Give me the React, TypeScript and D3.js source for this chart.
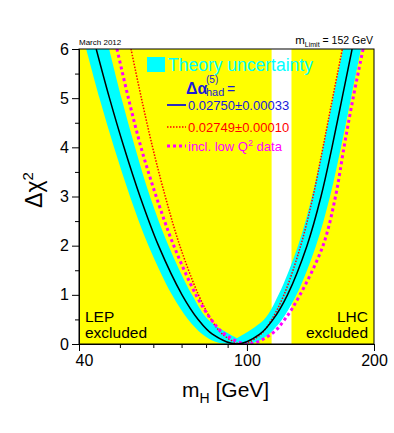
import { useEffect, useRef } from "react";
import * as d3 from "d3";

// axis ticks
const yMajorTicks = [0, 1, 2, 3, 4, 5, 6];
const yMinorTicks = [0.5, 1.5, 2.5, 3.5, 4.5, 5.5];
const xMajorTicks = [40, 100, 200];
const xMinorTicks = [50, 60, 70, 80, 90];

// excluded regions (GeV)
const lepLimit = 114.4;
const lhcLimit = 127.5;

// curves as [mH (GeV), delta chi2]
const centralCurve = [
  [43.94, 6], [47.24, 5], [51.13, 4], [55.8, 3], [61.72, 2], [70.17, 1], [76.61, 0.5],
  [82.82, 0.2], [94.72, 0], [107.26, 0.2], [115.34, 0.5], [124.76, 1], [138.77, 2],
  [149.78, 3], [159.04, 4], [168.05, 5], [177.48, 6],
];
const smallErrCurve = [
  [53.12, 6], [56.22, 5], [59.77, 4], [64.05, 3], [69.33, 2], [76.77, 1], [82.28, 0.5],
  [87.51, 0.2], [97.33, 0], [107.85, 0.2], [114.46, 0.5], [122.4, 1], [134.08, 2],
  [143.39, 3], [151.42, 4], [159.56, 5], [168.33, 6],
];
const lowQ2Curve = [
  [49.21, 6], [52.37, 5], [56.1, 4], [60.95, 3], [67.09, 2], [75.73, 1], [82.28, 0.5],
  [88.57, 0.2], [100.57, 0], [114.21, 0.2], [122.93, 0.5], [133.57, 1], [151.42, 2],
  [162.11, 3], [169.81, 4], [178.45, 5], [188.46, 6],
];

// theory band edges
const bandLeftOuter = [
  [41.6, 6], [44.73, 5], [48.42, 4], [52.83, 3], [58.44, 2], [66.44, 1], [72.54, 0.5],
  [78.42, 0.2], [83.87, 0.05], [89.69, 0],
];
const bandRightOuter = [
  [99.48, 0], [105.87, 0.05], [112.66, 0.2], [121.14, 0.5], [131.04, 1], [145.75, 2],
  [157.32, 3], [167.05, 4], [176.42, 5], [186.31, 6],
];
const bandRightInner = [
  [168.88, 6], [159.91, 5], [151.42, 4], [142.61, 3], [132.12, 2], [118.78, 1],
  [109.81, 0.5], [94.72, 0.12],
];
const bandLeftInner = [
  [94.72, 0.12], [80.9, 0.5], [74.1, 1], [65.18, 2], [58.92, 3], [54.29, 4],
  [50.44, 5], [47.16, 6],
];

const FONT = "Liberation Sans, Arial, Helvetica, sans-serif";
const BLUE = "#1a1ad9";

const App = () => {
  const chartRef = useRef(null);

  useEffect(() => {
    const svg = d3.select(chartRef.current);
    svg.selectAll("*").remove();

    const left = 79, right = 374, top = 49, bottom = 344;

    const x = d3.scaleLog().domain([40, 200]).range([left, right]);
    const y = d3.scaleLinear().domain([0, 6]).range([bottom, top]);

    svg.append("defs").append("clipPath")
      .attr("id", "plot-clip")
      .append("rect")
      .attr("x", left).attr("y", top)
      .attr("width", right - left).attr("height", bottom - top);

    // excluded regions
    svg.append("rect")
      .attr("x", left).attr("y", top)
      .attr("width", right - left).attr("height", bottom - top)
      .attr("fill", "#ffff00");
    svg.append("rect")
      .attr("x", x(lepLimit)).attr("y", top)
      .attr("width", x(lhcLimit) - x(lepLimit)).attr("height", bottom - top)
      .attr("fill", "#ffffff");

    const plot = svg.append("g").attr("clip-path", "url(#plot-clip)");

    const line = d3.line()
      .x(d => x(d[0]))
      .y(d => y(d[1]))
      .curve(d3.curveCatmullRom);

    // theory band
    const outer = line([...bandLeftOuter, ...bandRightOuter]);
    const rInner = line(bandRightInner).replace(/^M/, "L");
    const lInner = line(bandLeftInner).replace(/^M/, "L");
    plot.append("path")
      .attr("d", outer + rInner + lInner + "Z")
      .attr("fill", "#00ffff");

    plot.append("path")
      .attr("d", line(smallErrCurve))
      .attr("fill", "none")
      .attr("stroke", "#ff0000")
      .attr("stroke-width", 1.5)
      .attr("stroke-dasharray", "1.5,1.5");

    plot.append("path")
      .attr("d", line(lowQ2Curve))
      .attr("fill", "none")
      .attr("stroke", "#ff00ff")
      .attr("stroke-width", 3)
      .attr("stroke-dasharray", "3,3");

    plot.append("path")
      .attr("d", line(centralCurve))
      .attr("fill", "none")
      .attr("stroke", "#000000")
      .attr("stroke-width", 1.5);

    // frame
    svg.append("rect")
      .attr("x", left).attr("y", top)
      .attr("width", right - left).attr("height", bottom - top)
      .attr("fill", "none")
      .attr("stroke", "#000")
      .attr("stroke-width", 1);

    // axes
    const yAxis = svg.append("g")
      .attr("transform", `translate(${left},0)`)
      .call(d3.axisLeft(y).tickValues(yMajorTicks).tickSize(7).tickSizeOuter(0).tickPadding(3).tickFormat(d3.format("d")));
    svg.append("g")
      .attr("transform", `translate(${left},0)`)
      .call(d3.axisLeft(y).tickValues(yMinorTicks).tickSize(4).tickSizeOuter(0).tickFormat(() => ""));

    const xAxis = svg.append("g")
      .attr("transform", `translate(0,${bottom})`)
      .call(d3.axisBottom(x).tickValues(xMajorTicks).tickSize(7).tickSizeOuter(0).tickPadding(4).tickFormat(d3.format("d")));
    svg.append("g")
      .attr("transform", `translate(0,${bottom})`)
      .call(d3.axisBottom(x).tickValues(xMinorTicks).tickSize(4).tickSizeOuter(0).tickFormat(() => ""));

    svg.selectAll(".domain").attr("stroke", "#000");
    svg.selectAll(".tick line").attr("stroke", "#000");
    [yAxis, xAxis].forEach(a => a.selectAll("text")
      .style("font-family", FONT)
      .style("font-size", "16px")
      .attr("fill", "#000"));
    xAxis.selectAll("text").filter(d => d === 40)
      .attr("text-anchor", "start").attr("x", -4);

    // axis titles
    const xt = svg.append("text")
      .attr("x", 182).attr("y", 397)
      .style("font-family", FONT).style("font-size", "21px");
    xt.append("tspan").text("m");
    xt.append("tspan").attr("dy", 6).style("font-size", "14px").text("H");
    xt.append("tspan").attr("dy", -6).text(" [GeV]");

    const yt = svg.append("text")
      .attr("transform", "translate(42,190) rotate(-90)")
      .attr("text-anchor", "middle")
      .style("font-family", FONT).style("font-size", "23px");
    yt.append("tspan").text("Δχ");
    yt.append("tspan").attr("dy", -9).style("font-size", "15px").text("2");

    // header notes
    svg.append("text")
      .attr("x", 79).attr("y", 45)
      .style("font-family", FONT).style("font-size", "8px")
      .text("March 2012");
    const ml = svg.append("text")
      .attr("x", 373).attr("y", 44)
      .attr("text-anchor", "end")
      .style("font-family", FONT).style("font-size", "10.5px");
    ml.append("tspan").style("font-size", "11.5px").text("m");
    ml.append("tspan").attr("dy", 3).style("font-size", "7px").text("Limit");
    ml.append("tspan").attr("dy", -3).text(" = 152 GeV");

    // legend
    svg.append("rect")
      .attr("x", 147).attr("y", 57).attr("width", 18).attr("height", 15)
      .attr("fill", "#00ffff");
    svg.append("text")
      .attr("x", 168).attr("y", 71)
      .style("font-family", FONT).style("font-size", "17.5px")
      .attr("fill", "#00ffff")
      .text("Theory uncertainty");

    const da = svg.append("text")
      .attr("x", 186).attr("y", 94)
      .style("font-family", FONT).style("font-size", "16px")
      .style("font-weight", "bold")
      .attr("fill", BLUE);
    da.append("tspan").text("Δα");
    da.append("tspan").attr("x", 206).attr("dy", -11).style("font-size", "10px").style("font-weight", "normal").text("(5)");
    da.append("tspan").attr("x", 206).attr("dy", 13).style("font-size", "11px").style("font-weight", "normal").text("had");
    da.append("tspan").attr("x", 227).attr("dy", -2).style("font-size", "14px").style("font-weight", "normal").text("=");

    const legendRows = [
      { y: 105, color: "#2b2bc0", text: "0.02750±0.00033", textColor: BLUE, width: 2, dash: null },
      { y: 127, color: "#ff0000", text: "0.02749±0.00010", textColor: "#ff0000", width: 1.5, dash: "1.5,1.5" },
      { y: 146, color: "#ff00ff", text: "incl. low Q", textColor: "#ff00ff", width: 3, dash: "3,3" },
    ];
    legendRows.forEach((r, i) => {
      svg.append("line")
        .attr("x1", 167).attr("x2", 186)
        .attr("y1", r.y).attr("y2", r.y)
        .attr("stroke", r.color)
        .attr("stroke-width", r.width)
        .attr("stroke-dasharray", r.dash);
      const t = svg.append("text")
        .attr("x", 188).attr("y", r.y + 4.5)
        .style("font-family", FONT).style("font-size", "13px")
        .attr("fill", r.textColor);
      t.append("tspan").text(r.text);
      if (i === 2) {
        t.append("tspan").attr("dy", -5).style("font-size", "9px").text("2");
        t.append("tspan").attr("dy", 5).text(" data");
      }
    });

    // excluded region labels
    const lep = svg.append("text")
      .style("font-family", FONT).style("font-size", "15.5px");
    lep.append("tspan").attr("x", 85).attr("y", 322).text("LEP");
    lep.append("tspan").attr("x", 85).attr("y", 338).text("excluded");
    const lhc = svg.append("text")
      .attr("text-anchor", "end")
      .style("font-family", FONT).style("font-size", "15.5px");
    lhc.append("tspan").attr("x", 368).attr("y", 322).text("LHC");
    lhc.append("tspan").attr("x", 368).attr("y", 338).text("excluded");

    return () => {
      d3.select(chartRef.current).selectAll("*").remove();
    };
  }, []);

  return (
    <svg
      ref={chartRef}
      width={394}
      height={433}
      style={{ position: "absolute", left: 0, top: 0, background: "#fff" }}
    ></svg>
  );
};

export default App;
